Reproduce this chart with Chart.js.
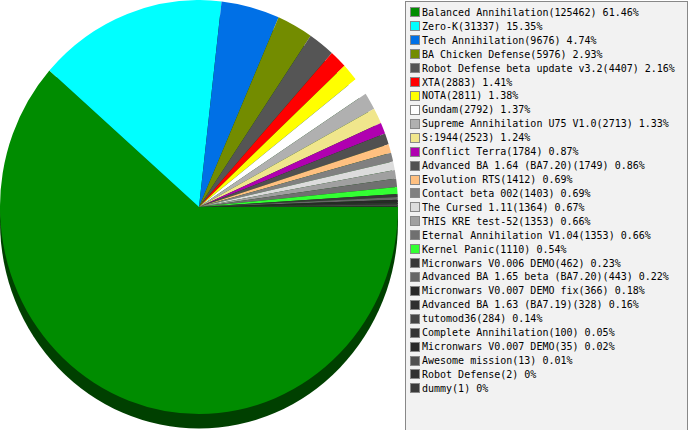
<!DOCTYPE html>
<html>
<head>
<meta charset="utf-8">
<script src="https://cdn.jsdelivr.net/npm/chart.js@4"></script>
<style>
  body { margin: 0; background: #fff; }
  #wrap { position: relative; width: 689px; height: 430px; overflow: hidden; }
  #pie { position: absolute; left: 0; top: 0; }
  #legend {
    position: absolute; left: 405px; top: 1px; width: 281px; height: 426px;
    border: 1px solid #888; background: #f2f2f2; padding-top: 3.5px; box-sizing: content-box;
    font-family: "DejaVu Sans Mono", monospace; font-size: 10px; color: #000;
  }
  .row { display: flex; align-items: center; height: 13.93px; white-space: nowrap; }
  .sw { width: 8px; height: 8px; border: 1px solid #888; margin-left: 4px; margin-right: 2px; flex: none; }
</style>
</head>
<body>
<div id="wrap">
  <canvas id="pie" width="689" height="430"></canvas>
  <div id="legend"></div>
</div>
<script>
const labels = [
  "Balanced Annihilation", "Zero-K", "Tech Annihilation", "BA Chicken Defense",
  "Robot Defense beta update v3.2", "XTA", "NOTA", "Gundam",
  "Supreme Annihilation U75 V1.0", "S:1944", "Conflict Terra", "Advanced BA 1.64 (BA7.20)",
  "Evolution RTS", "Contact beta 002", "The Cursed 1.11", "THIS KRE test-52",
  "Eternal Annihilation V1.04", "Kernel Panic", "Micronwars V0.006 DEMO", "Advanced BA 1.65 beta (BA7.20)",
  "Micronwars V0.007 DEMO fix", "Advanced BA 1.63 (BA7.19)", "tutomod36", "Complete Annihilation",
  "Micronwars V0.007 DEMO", "Awesome mission", "Robot Defense", "dummy"
];
const values = [
  125462, 31337, 9676, 5976,
  4407, 2883, 2811, 2792,
  2713, 2523, 1784, 1749,
  1412, 1403, 1364, 1353,
  1353, 1110, 462, 443,
  366, 328, 284, 100,
  35, 13, 2, 1
];
const colors = [
  "#008c00", "#00ffff", "#0070e6", "#738c00",
  "#555555", "#ff0000", "#ffff00", "#ffffff",
  "#b0b0b0", "#f0e68c", "#b000b0", "#505050",
  "#ffc080", "#808080", "#dcdcdc", "#a0a0a0",
  "#707070", "#33ff33", "#383838", "#666666",
  "#282828", "#303030", "#454545", "#353535",
  "#2a2a2a", "#505050", "#303030", "#3a3a3a"
];

const total = values.reduce((a, b) => a + b, 0);
const legend = document.getElementById("legend");
labels.forEach(function (name, i) {
  const pct = parseFloat((values[i] / total * 100).toFixed(2));
  const row = document.createElement("div");
  row.className = "row";
  row.innerHTML = '<span class="sw" style="background:' + colors[i] + '"></span><span>' +
    name + "(" + values[i] + ") " + pct + "%</span>";
  legend.appendChild(row);
});

// squash into a slight vertical ellipse and add the dark 3D rim underneath
const tilt = {
  id: "tilt",
  beforeDatasetsDraw(chart) {
    const arc = chart.getDatasetMeta(0).data[0];
    const ctx = chart.ctx;
    ctx.save();
    ctx.translate(arc.x, arc.y);
    ctx.scale(1, 1.04);
    ctx.translate(-arc.x, -arc.y);
    ctx.fillStyle = "#004000";
    ctx.beginPath();
    ctx.arc(arc.x, arc.y + 14, arc.outerRadius, 0, Math.PI * 2);
    ctx.fill();
  },
  afterDatasetsDraw(chart) {
    chart.ctx.restore();
  }
};

new Chart(document.getElementById("pie"), {
  type: "pie",
  data: {
    labels: labels,
    datasets: [{
      data: values,
      backgroundColor: colors,
      borderWidth: 0
    }]
  },
  options: {
    responsive: false,
    animation: false,
    rotation: 90,
    layout: { padding: { left: 0, top: 8, right: 291, bottom: 24 } },
    plugins: {
      legend: { display: false },
      tooltip: { enabled: false }
    }
  },
  plugins: [tilt]
});
</script>
</body>
</html>
